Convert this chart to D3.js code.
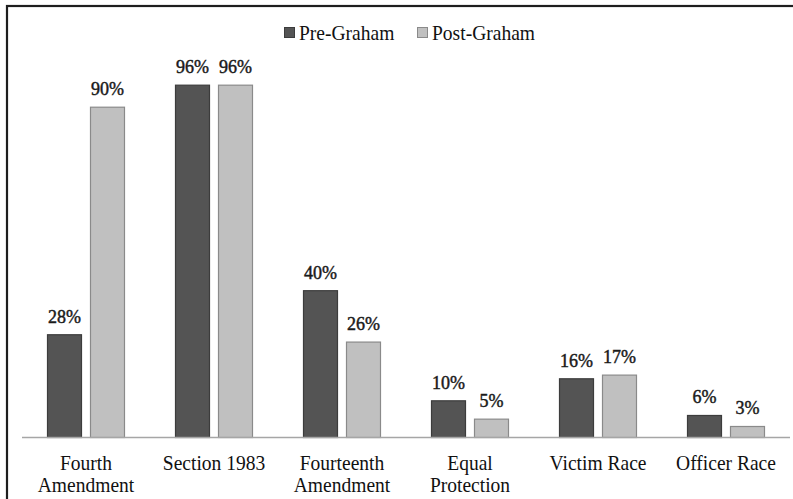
<!DOCTYPE html>
<html>
<head>
<meta charset="utf-8">
<script src="https://cdn.jsdelivr.net/npm/d3@7"></script>
<style>
  html, body { margin: 0; padding: 0; background: #fff; }
  svg { display: block; }
</style>
</head>
<body>
<svg id="chart" width="793" height="499"></svg>
<script>
const categories = [["Fourth", "Amendment"], ["Section 1983"], ["Fourteenth", "Amendment"], ["Equal", "Protection"], ["Victim Race"], ["Officer Race"]];
const seriesNames = ["Pre-Graham", "Post-Graham"];
const preGraham = [28, 96, 40, 10, 16, 6];
const postGraham = [90, 96, 26, 5, 17, 3];
const colors = ["#545454", "#c0c0c0"];
const strokes = ["#3c3c3c", "#8a8a8a"];

const svg = d3.select("#chart");
const font = "'Liberation Serif', 'Times New Roman', serif";
const sx = 0.93;

// outer frame (cropped at right/bottom)
svg.append("rect").attr("x", 7).attr("y", 6).attr("width", 820).attr("height", 600)
  .attr("fill", "none").attr("stroke", "#1e1e1e").attr("stroke-width", 2.2);

const idx = d3.range(categories.length);
const x0 = d3.scaleBand().domain(idx).range([22, 790]).paddingInner(0).paddingOuter(0);
const x1 = d3.scaleBand().domain([0, 1]).range([25, 103]).paddingInner(8 / 43).paddingOuter(0);
const y = d3.scaleLinear().domain([0, 100]).range([437.5, 70.5]);

const data = idx.map(i => ({ i, vals: [preGraham[i], postGraham[i]] }));

const groups = svg.append("g").selectAll("g").data(data).join("g")
  .attr("transform", d => `translate(${x0(d.i)},0)`);

groups.selectAll("rect").data(d => d.vals.map((v, s) => ({ v, s }))).join("rect")
  .attr("x", d => x1(d.s) + 0.5)
  .attr("y", d => y(d.v))
  .attr("width", x1.bandwidth() - 1)
  .attr("height", d => y(0) - y(d.v))
  .attr("fill", d => colors[d.s])
  .attr("stroke", d => strokes[d.s])
  .attr("stroke-width", 1.2);

groups.selectAll("text.val").data(d => d.vals.map((v, s) => ({ v, s }))).join("text")
  .attr("class", "val")
  .attr("x", d => x1(d.s) + x1.bandwidth() / 2)
  .attr("y", d => y(d.v) - 12)
  .attr("text-anchor", "middle")
  .attr("font-family", font)
  .attr("font-size", 18)
  .attr("fill", "#1a1a1a")
  .attr("stroke", "#1a1a1a")
  .attr("stroke-width", 0.45)
  .text(d => d.v + "%");

// baseline
svg.append("line").attr("x1", 22).attr("x2", 790).attr("y1", y(0)).attr("y2", y(0))
  .attr("stroke", "#a6a6a6").attr("stroke-width", 1.5);

// category labels
const catG = svg.append("g").selectAll("g").data(categories).join("g")
  .attr("transform", (d, i) => `translate(${x0(i) + x0.bandwidth() / 2},0)`);
catG.each(function (lines) {
  const g = d3.select(this);
  lines.forEach((t, k) => {
    g.append("text")
      .attr("transform", `translate(0,${470 + k * 22}) scale(${sx},1)`)
      .attr("text-anchor", "middle")
      .attr("font-family", font)
      .attr("font-size", 21)
      .attr("fill", "#111")
      .text(t);
  });
});

// legend
const legendX = [284, 417];
const leg = svg.append("g").selectAll("g").data(seriesNames).join("g")
  .attr("transform", (d, i) => `translate(${legendX[i]},27)`);
leg.append("rect").attr("x", 0.5).attr("y", 0.5).attr("width", 10).attr("height", 10)
  .attr("fill", (d, i) => colors[i]).attr("stroke", (d, i) => strokes[i]).attr("stroke-width", 1);
leg.append("text")
  .attr("transform", `translate(15,13) scale(${sx},1)`)
  .attr("font-family", font).attr("font-size", 21).attr("fill", "#111")
  .text(d => d);
</script>
</body>
</html>
